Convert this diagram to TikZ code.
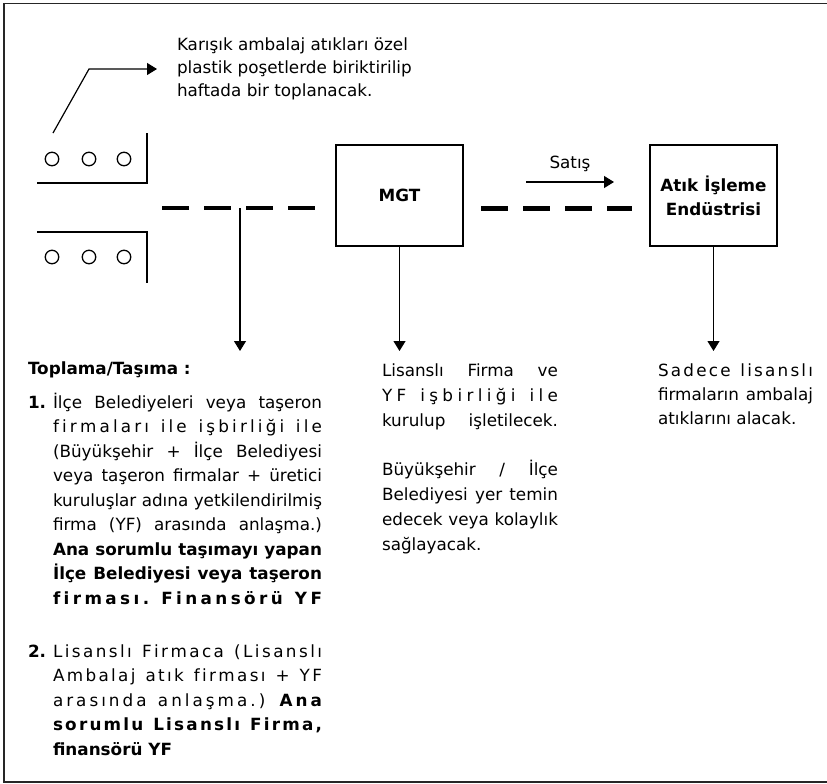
\documentclass[tikz,border=0pt]{standalone}
\usepackage{fontspec}
\setmainfont{DejaVu Sans}
\usetikzlibrary{arrows.meta}

\makeatletter
\def\spr@a{\futurelet\spr@next\spr@b}
\def\spr@b{\ifx\spr@next\spr@stop\let\spr@do\spr@end\else\ifx\spr@next\@sptoken\let\spr@do\spr@space\else\let\spr@do\spr@char\fi\fi\spr@do}
\def\spr@stop{\spr@stop}
\def\spr@end\spr@stop{\hskip0pt plus -1fil}
\expandafter\def\expandafter\spr@space\space{\hskip.318em plus 1fil\spr@a}
\def\spr@char#1{#1\hskip0pt plus 1fil\spr@a}
\newcommand\SLine[2]{\hbox to #1{\spr@a#2\spr@stop}}
\newcommand\JLine[2]{\makebox[#1][s]{#2}}
\makeatother

\begin{document}
\begin{tikzpicture}[x=1pt,y=-1pt,
  every node/.style={inner sep=0pt,outer sep=0pt},
  font=\fontsize{16.8}{23}\selectfont,
  frame/.style={draw=black!85,line width=1.6pt},
  box/.style={draw,line width=1.1pt,minimum width=127pt,minimum height=101pt,align=center,
    font=\fontsize{16.8}{24}\selectfont\bfseries},
  arr/.style={line width=1.2pt,-{Triangle[length=10pt,width=12pt]}},
  thickdash/.style={line width=4.5pt,dash pattern=on 27pt off 15pt},
  bin/.style={draw,circle,line width=1.3pt,minimum size=13.5pt},
  bracket/.style={line width=1.3pt},
  txt/.style={anchor=base west},
  bt/.style={anchor=base west,font=\fontsize{16.8}{23}\selectfont\bfseries}]
\useasboundingbox (0,0) rectangle (827,784);
% outer frame
\draw[frame] (830,3.5) -- (4,3.5) -- (4,782) -- (830,782);

% bins
\node[bin] (c1) at (52,159) {};
\node[bin] (c2) at (89,159) {};
\node[bin] (c3) at (124,159) {};
\node[bin] (c4) at (52,257) {};
\node[bin] (c5) at (89,257) {};
\node[bin] (c6) at (124,257) {};
\coordinate (b1a) at (147,133);
\coordinate (b1b) at (147,183);
\coordinate (b1c) at (37,183);
\coordinate (b2a) at (37,232);
\coordinate (b2b) at (147,232);
\coordinate (b2c) at (147,283);
\draw[bracket] (b1a) -- (b1b) -- (b1c);
\draw[bracket] (b2a) -- (b2b) -- (b2c);

% note arrow
\coordinate (n0) at (53,133);
\coordinate (n1) at (89,69);
\coordinate (n2) at (157,69);
\draw[arr] (n0) -- (n1) -- (n2);
\node[txt] (k1) at (177,51) {Karışık ambalaj atıkları özel};
\node[txt] (k2) at (177,74) {plastik poşetlerde biriktirilip};
\node[txt] (k3) at (177,96.5) {haftada bir toplanacak.};

% boxes
\node[box] (mgt) at (399.5,195.5) {MGT};
\node[box] (aie) at (713.5,195.5) {Atık İşleme\\Endüstrisi};

% dashed lines
\coordinate (d1s) at (162,208);
\coordinate (d1e) at (316,208);
\draw[thickdash] (d1s) -- (d1e);
\draw[thickdash] ([xshift=18pt,yshift=-13pt]mgt.east) -- ([xshift=-18pt,yshift=-13pt]aie.west);

% Satis
\coordinate (s0) at (526,182);
\coordinate (s1) at (614,182);
\draw[arr] (s0) -- (s1);
\node[anchor=base] (sat) at (570,168) {Satış};

% down arrows
\coordinate (j0) at (240,208);
\coordinate (j1) at (240,351);
\draw[arr] (j0) -- (j1);
\coordinate (m1) at (399.5,351);
\draw[arr] (mgt.south) -- (m1);
\coordinate (a1) at (713.5,351);
\draw[arr] (aie.south) -- (a1);

% left block
\node[bt] (tt) at (28,374) {Toplama/Taşıma :};
\node[bt] (n1l) at (28,408) {1.};
\node[txt] (l1) at (53,408) {\JLine{269pt}{İlçe Belediyeleri veya taşeron}};
\node[txt] (l2) at (53,432.5) {\SLine{269pt}{firmaları ile işbirliği ile}};
\node[txt] (l3) at (53,457) {\JLine{269pt}{(Büyükşehir + İlçe Belediyesi}};
\node[txt] (l4) at (53,481.5) {\JLine{269pt}{veya taşeron firmalar + üretici}};
\node[txt] (l5) at (53,506) {\JLine{269pt}{kuruluşlar adına yetkilendirilmiş}};
\node[txt] (l6) at (53,530.5) {\JLine{269pt}{firma (YF) arasında anlaşma.)}};
\node[bt] (l7) at (53,555) {\JLine{269pt}{Ana sorumlu taşımayı yapan}};
\node[bt] (l8) at (53,579.5) {\JLine{269pt}{İlçe Belediyesi veya taşeron}};
\node[bt] (l9) at (53,604) {\SLine{269pt}{firması. Finansörü YF}};

\node[bt] (n2l) at (28,657) {2.};
\node[txt] (r1) at (53,657) {\SLine{269pt}{Lisanslı Firmaca (Lisanslı}};
\node[txt] (r2) at (53,681.5) {\SLine{269pt}{Ambalaj atık firması + YF}};
\node[txt] (r3) at (53,706) {\SLine{269pt}{arasında anlaşma.) \bfseries Ana}};
\node[bt] (r4) at (53,730.5) {\SLine{269pt}{sorumlu Lisanslı Firma,}};
\node[bt] (r5) at (53,755) {finansörü YF};

% middle block
\node[txt] (m1t) at (382,376) {\JLine{176pt}{Lisanslı Firma ve}};
\node[txt] (m2t) at (382,401) {\SLine{176pt}{YF işbirliği ile}};
\node[txt] (m3t) at (382,426) {\JLine{176pt}{kurulup işletilecek.}};
\node[txt] (m4t) at (382,475) {\JLine{176pt}{Büyükşehir / İlçe}};
\node[txt] (m5t) at (382,500) {\JLine{176pt}{Belediyesi yer temin}};
\node[txt] (m6t) at (382,525) {\JLine{176pt}{edecek veya kolaylık}};
\node[txt] (m7t) at (382,550) {sağlayacak.};

% right block
\node[txt] (q1) at (658,376) {\SLine{155pt}{Sadece lisanslı}};
\node[txt] (q2) at (658,400) {\JLine{155pt}{firmaların ambalaj}};
\node[txt] (q3) at (658,424) {atıklarını alacak.};
\end{tikzpicture}
\end{document}
